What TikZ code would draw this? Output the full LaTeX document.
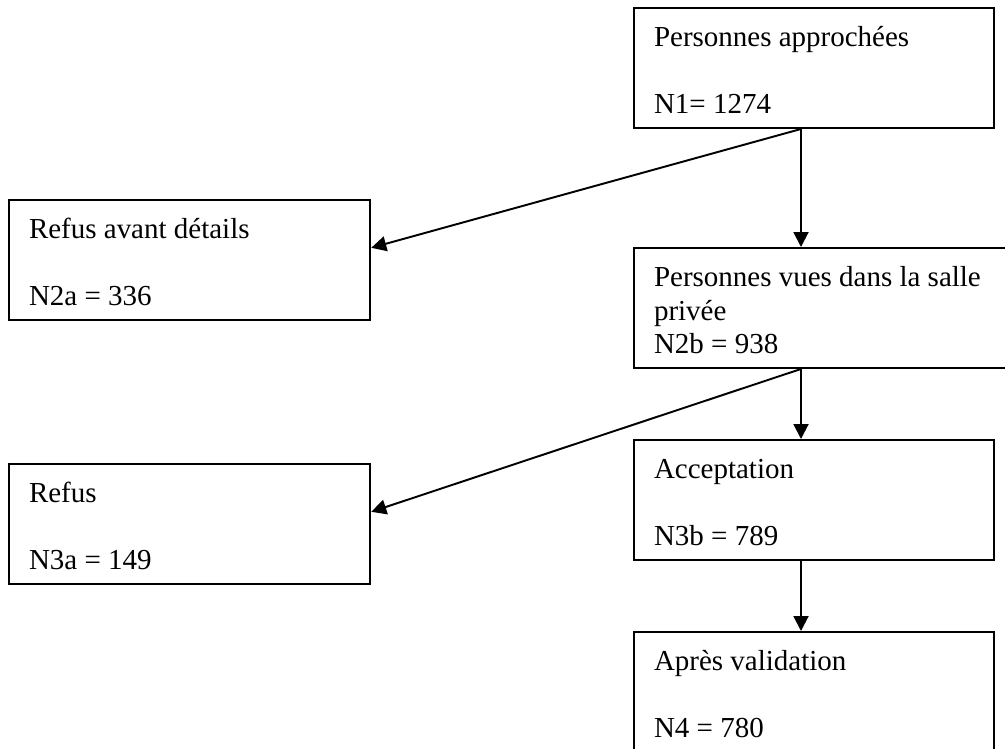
\documentclass[tikz,border=0pt]{standalone}
\usepackage{fontspec}
\setmainfont{Liberation Serif}
\usetikzlibrary{positioning,calc,arrows.meta}

\begin{document}
\begin{tikzpicture}[x=0.414pt, y=-0.414pt, thick, >={Triangle[length=6.2pt,width=6.2pt]},
      stage/.style={draw, anchor=north west, inner xsep=8.3pt, inner ysep=0pt,
        align=flush left, text width=132.5pt, text height=16.1pt, text depth=33.6pt,
        font=\fontsize{12}{13.8}\selectfont}]
    \path[use as bounding box, clip] (0,0) rectangle (1005,748);
    % main column
    \node (APPR) [stage] at (633,7) {Personnes approchées\\[13.8pt]N1= 1274};
    \node (VUES) [stage, text width=140.7pt] at (633,247) {Personnes vues dans la salle\\privée\\N2b = 938};
    \node (ACCEPT) [stage] at (633,439) {Acceptation\\[13.8pt]N3b = 789};
    \node (VALID) [stage] at (633,631) {Après validation\\[13.8pt]N4 = 780};
    % refusals
    \node (REFUSA) [stage, text width=133pt] at (8,199) {Refus avant détails\\[13.8pt]N2a = 336};
    \node (REFUSB) [stage, text width=133pt] at (8,463) {Refus\\[13.8pt]N3a = 149};
    \coordinate (OUT1) at ($(APPR.south west)+(168,0)$);
    \coordinate (OUT2) at ($(VUES.south west)+(168,0)$);
    \draw[->] (OUT1) -- (OUT1 |- VUES.north);
    \draw[->] (OUT1) -- ($(REFUSA.north east)!0.4!(REFUSA.south east)$);
    \draw[->] (OUT2) -- (OUT2 |- ACCEPT.north);
    \draw[->] (OUT2) -- ($(REFUSB.north east)!0.4!(REFUSB.south east)$);
    \draw[->] (ACCEPT.south -| OUT2) -- (VALID.north -| OUT2);
\end{tikzpicture}
\end{document}
